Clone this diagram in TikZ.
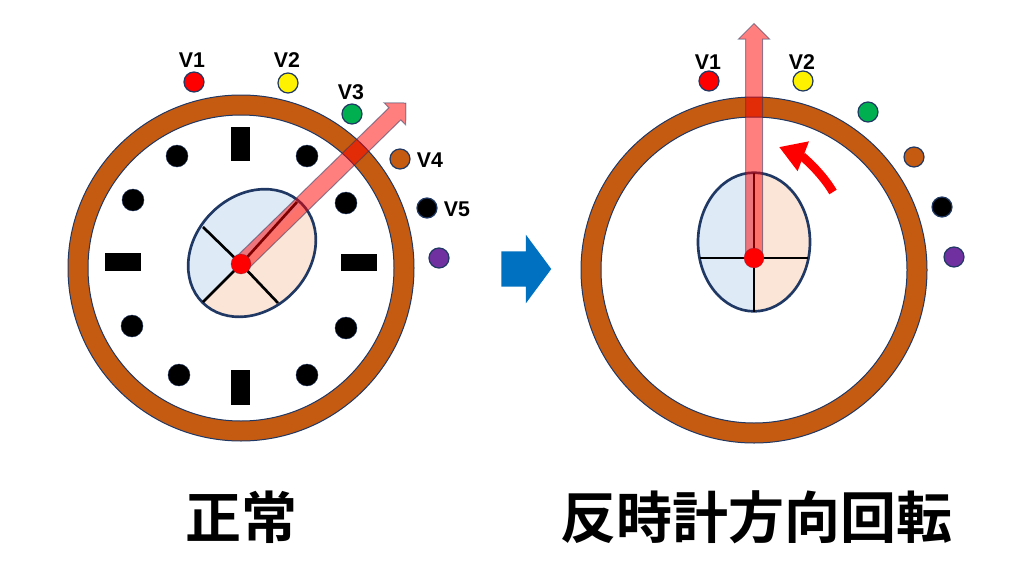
\documentclass[tikz,border=0pt]{standalone}
\usepackage{fontspec}
\setmainfont{Liberation Sans}
\newfontfamily\cjk{Noto Sans CJK JP}[BoldFont={Noto Sans CJK JP Bold}]
\usetikzlibrary{arrows.meta, shapes.geometric, shapes.arrows}
\definecolor{edgeblue}{HTML}{203864}
\definecolor{ringbrown}{HTML}{C55A11}
\definecolor{halfblue}{HTML}{DEEBF7}
\definecolor{halforange}{HTML}{FBE5D6}
\tikzset{
    ringband/.style={fill=ringbrown,draw=edgeblue,line width=.75pt,even odd rule},
    rotor/.style={ellipse,minimum width=105pt,minimum height=85.5pt,inner sep=0pt,
        draw=edgeblue,line width=2pt,
        path picture={
            \fill[halfblue] (-100pt,0pt) rectangle (100pt,100pt);
            \fill[halforange] (-100pt,0pt) rectangle (100pt,-100pt);
        }},
    spoke/.style={black,line width=2pt},
    slot/.style={fill=black},
    pin/.style={circle,fill=black,minimum size=16.5pt,inner sep=0pt,draw=edgeblue,line width=.3pt},
    valve/.style={circle,minimum size=15pt,inner sep=0pt,draw=edgeblue,line width=.9pt},
    hub/.style={circle,fill=red,minimum size=15pt,inner sep=0pt,draw=edgeblue,draw opacity=.3,line width=.5pt},
    pointer/.style={single arrow,anchor=tail,minimum width=22.5pt,inner xsep=0pt,inner ysep=6pt,
        single arrow head extend=5.25pt,single arrow tip angle=90,
        fill=red,fill opacity=.5,draw=edgeblue,draw opacity=.5,line width=.75pt},
    tag/.style={font=\bfseries\fontsize{16}{16}\selectfont,text=black,inner sep=0pt},
    heading/.style={font=\cjk\bfseries\fontsize{42}{42}\selectfont,text=black,inner sep=0pt},
}
\begin{document}
\begin{tikzpicture}[x=.75pt,y=-.75pt]
    \useasboundingbox (0,0) rectangle (1024,578);

    % normal state
    \draw[ringband] (241,268) circle [radius=173] (241,268) circle [radius=153];
    \foreach \x/\y [count=\i] in {177/156,307/156,133/200,346/203,132/326,346/328,179/375,307/375}
        \node (pinL\i) at (\x,\y) [pin] {};
    \fill[slot] (231,127) rectangle (250,161);
    \fill[slot] (231,370) rectangle (250,405);
    \fill[slot] (105,253) rectangle (141,271);
    \fill[slot] (341,254) rectangle (377,271);
    \node (rotorL) at (252,253) [rotor,rotate=45] {};
    \coordinate (hubpointL) at (241,264);
    \coordinate (spokeLa) at (297,202);
    \coordinate (spokeLb) at (203,227);
    \coordinate (spokeLc) at (203,302);
    \coordinate (spokeLd) at (278,303);
    \foreach \e in {a,b,c,d}
        \draw[spoke] (hubpointL) -- (spokeL\e);
    \node (arrowL) at (hubpointL) [pointer,rotate=44.3,minimum height=172.5pt] {};
    \node (hubL) at (hubpointL) [hub] {};
    \node (valveLa) at (194,82) [valve,fill=red] {};
    \node (valveLb) at (288,83) [valve,fill=yellow] {};
    \node (valveLc) at (352,114) [valve,fill={rgb,255:red,0;green,176;blue,80}] {};
    \node (valveLd) at (400,159) [valve,fill=ringbrown] {};
    \node (valveLe) at (427,208) [valve,fill=black] {};
    \node (valveLf) at (439,258) [valve,fill={rgb,255:red,112;green,48;blue,160}] {};
    \node (tagLa) at (192,60) [tag] {V1};
    \node (tagLb) at (287,60) [tag] {V2};
    \node (tagLc) at (351,92) [tag] {V3};
    \node (tagLd) at (430,160) [tag] {V4};
    \node (tagLe) at (457,209) [tag] {V5};

    \node (shift) at (501,269) [single arrow,anchor=tail,fill={rgb,255:red,0;green,112;blue,192},
        inner xsep=0pt,inner ysep=13.1pt,minimum height=37.5pt,
        single arrow head extend=12.4pt,single arrow tip angle=107] {};

    % reverse rotation
    \draw[ringband] (754,270) circle [radius=173] (754,270) circle [radius=153];
    \node (rotorR) at (754,242) [rotor,rotate=90,minimum width=104pt,minimum height=84pt] {};
    \coordinate (hubpointR) at (754,258);
    \coordinate (spokeRa) at (754,173);
    \coordinate (spokeRb) at (700,258);
    \coordinate (spokeRc) at (754,312);
    \coordinate (spokeRd) at (808,258);
    \foreach \e in {a,b,c,d}
        \draw[spoke] (hubpointR) -- (spokeR\e);
    \node (arrowR) at (hubpointR) [pointer,rotate=90,minimum height=175.5pt] {};
    \node (hubR) at (hubpointR) [hub] {};
    \node (valveRa) at (709,81) [valve,fill=red] {};
    \node (valveRb) at (803,81) [valve,fill=yellow] {};
    \node (valveRc) at (868,112) [valve,fill={rgb,255:red,0;green,176;blue,80}] {};
    \node (valveRd) at (914,157) [valve,fill=ringbrown] {};
    \node (valveRe) at (942,207) [valve,fill=black] {};
    \node (valveRf) at (954,257) [valve,fill={rgb,255:red,112;green,48;blue,160}] {};
    \node (tagRa) at (708,62) [tag] {V1};
    \node (tagRb) at (802,62) [tag] {V2};
    \coordinate (turnstart) at (833,192);
    \coordinate (turnend) at (779,147);
    \draw[red,line width=6.5pt,-{Triangle[length=19.5pt,width=22.5pt]}]
        (turnstart) .. controls (820,170) and (800,155) .. (turnend);

    \node (titleL) at (241,517) [heading] {正常};
    \node (titleR) at (756,517) [heading] {反時計方向回転};
\end{tikzpicture}
\end{document}
